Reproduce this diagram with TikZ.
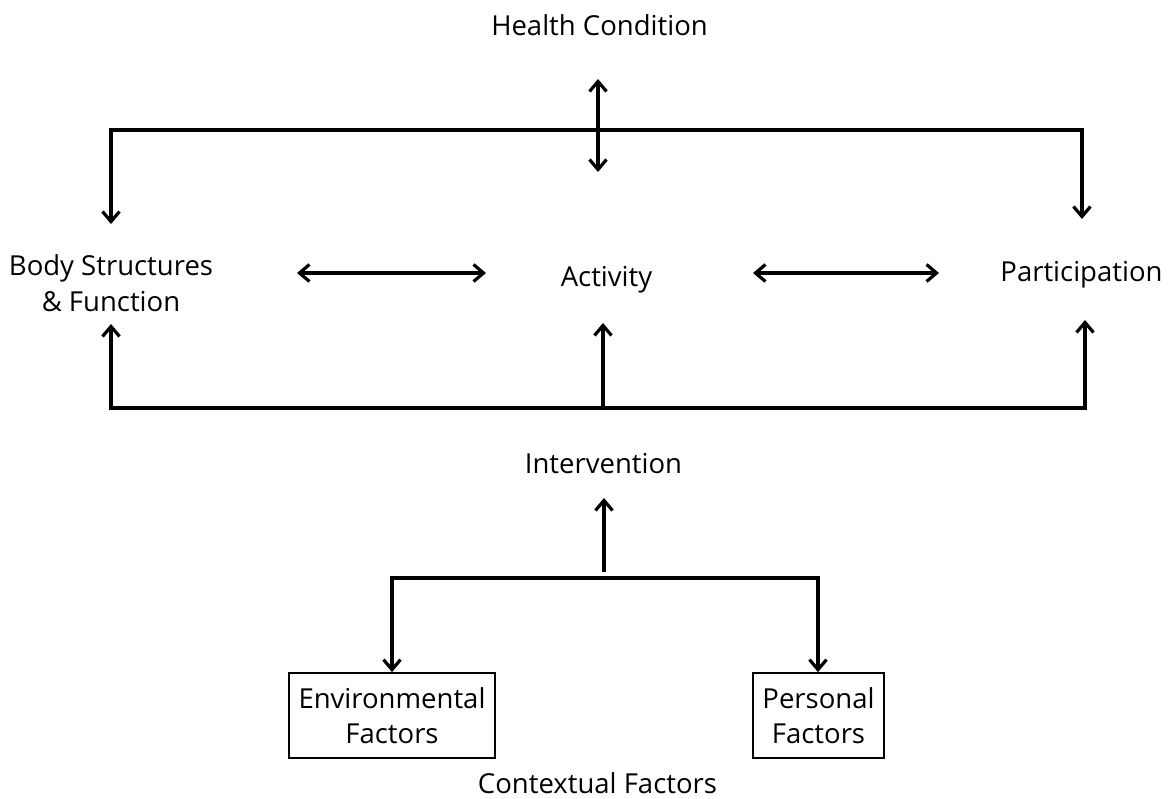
\documentclass[tikz,border=0pt]{standalone}
\usepackage{fontspec}
\setmainfont{Open Sans}
\usetikzlibrary{arrows.meta}
\begin{document}
\begin{tikzpicture}[x=1pt,y=-1pt,
  lbl/.style={font=\fontsize{27.5}{36}\selectfont, inner sep=0pt, align=center},
  boxnode/.style={draw, line width=1.8pt, font=\fontsize{27.5}{35}\selectfont, align=center, inner sep=0pt, minimum height=85pt},
  conn/.style={line width=3.2pt},
  arr/.style={conn, -{Straight Barb[length=10pt,width=17pt,line width=3.2pt]}},
  darr/.style={conn, {Straight Barb[length=10pt,width=17pt,line width=3.2pt]}-{Straight Barb[length=10pt,width=17pt,line width=3.2pt]}}]
\useasboundingbox (0,0) rectangle (1171,799);
% labels
\node[lbl, anchor=base] (hc) at (599.5,36) {Health Condition};
\node[lbl] (body) at (111,283) {Body Structures\\\& Function};
\node[lbl, anchor=base] (act) at (606.5,287) {Activity};
\node[lbl, anchor=base] (part) at (1081.5,282) {Participation};
\node[lbl, anchor=base] (int) at (603.5,474) {Intervention};
\node[boxnode, minimum width=206pt] (env) at (392,715.5) {Environmental\\Factors};
\node[boxnode, minimum width=131pt] (pers) at (818.5,715.5) {Personal\\Factors};
\node[lbl, anchor=base] (ctx) at (597.5,793) {Contextual Factors};
% coordinates
\coordinate (hcA) at (598,79);
\coordinate (hcB) at (598,172);
\coordinate (tl) at (111,130);
\coordinate (tr) at (1082,130);
\coordinate (tlTip) at (111,224);
\coordinate (trTip) at (1082,219);
\coordinate (ba1) at (297,273);
\coordinate (ba2) at (486,273);
\coordinate (ap1) at (753,273);
\coordinate (ap2) at (939,273);
\coordinate (bl) at (111,408);
\coordinate (bm) at (603,408);
\coordinate (br) at (1085,408);
\coordinate (blTip) at (111,324);
\coordinate (bmTip) at (603,323);
\coordinate (brTip) at (1085,320);
\coordinate (cm) at (604,572);
\coordinate (cmTip) at (604,498);
\coordinate (cl) at (392,578);
\coordinate (cr) at (818,578);
% connectors
\draw[darr] (hcA) -- (hcB);
\draw[conn, line cap=rect] (tl) -- (tr);
\draw[arr] (tl) -- (tlTip);
\draw[arr] (tr) -- (trTip);
\draw[darr] (ba1) -- (ba2);
\draw[darr] (ap1) -- (ap2);
\draw[conn, line cap=rect] (bl) -- (br);
\draw[arr] (bl) -- (blTip);
\draw[arr] (bm) -- (bmTip);
\draw[arr] (br) -- (brTip);
\draw[arr] (cm) -- (cmTip);
\draw[conn, line cap=rect] (cl) -- (cr);
\draw[arr] (cl) -- (cl |- env.north);
\draw[arr] (cr) -- (cr |- pers.north);
\end{tikzpicture}
\end{document}
